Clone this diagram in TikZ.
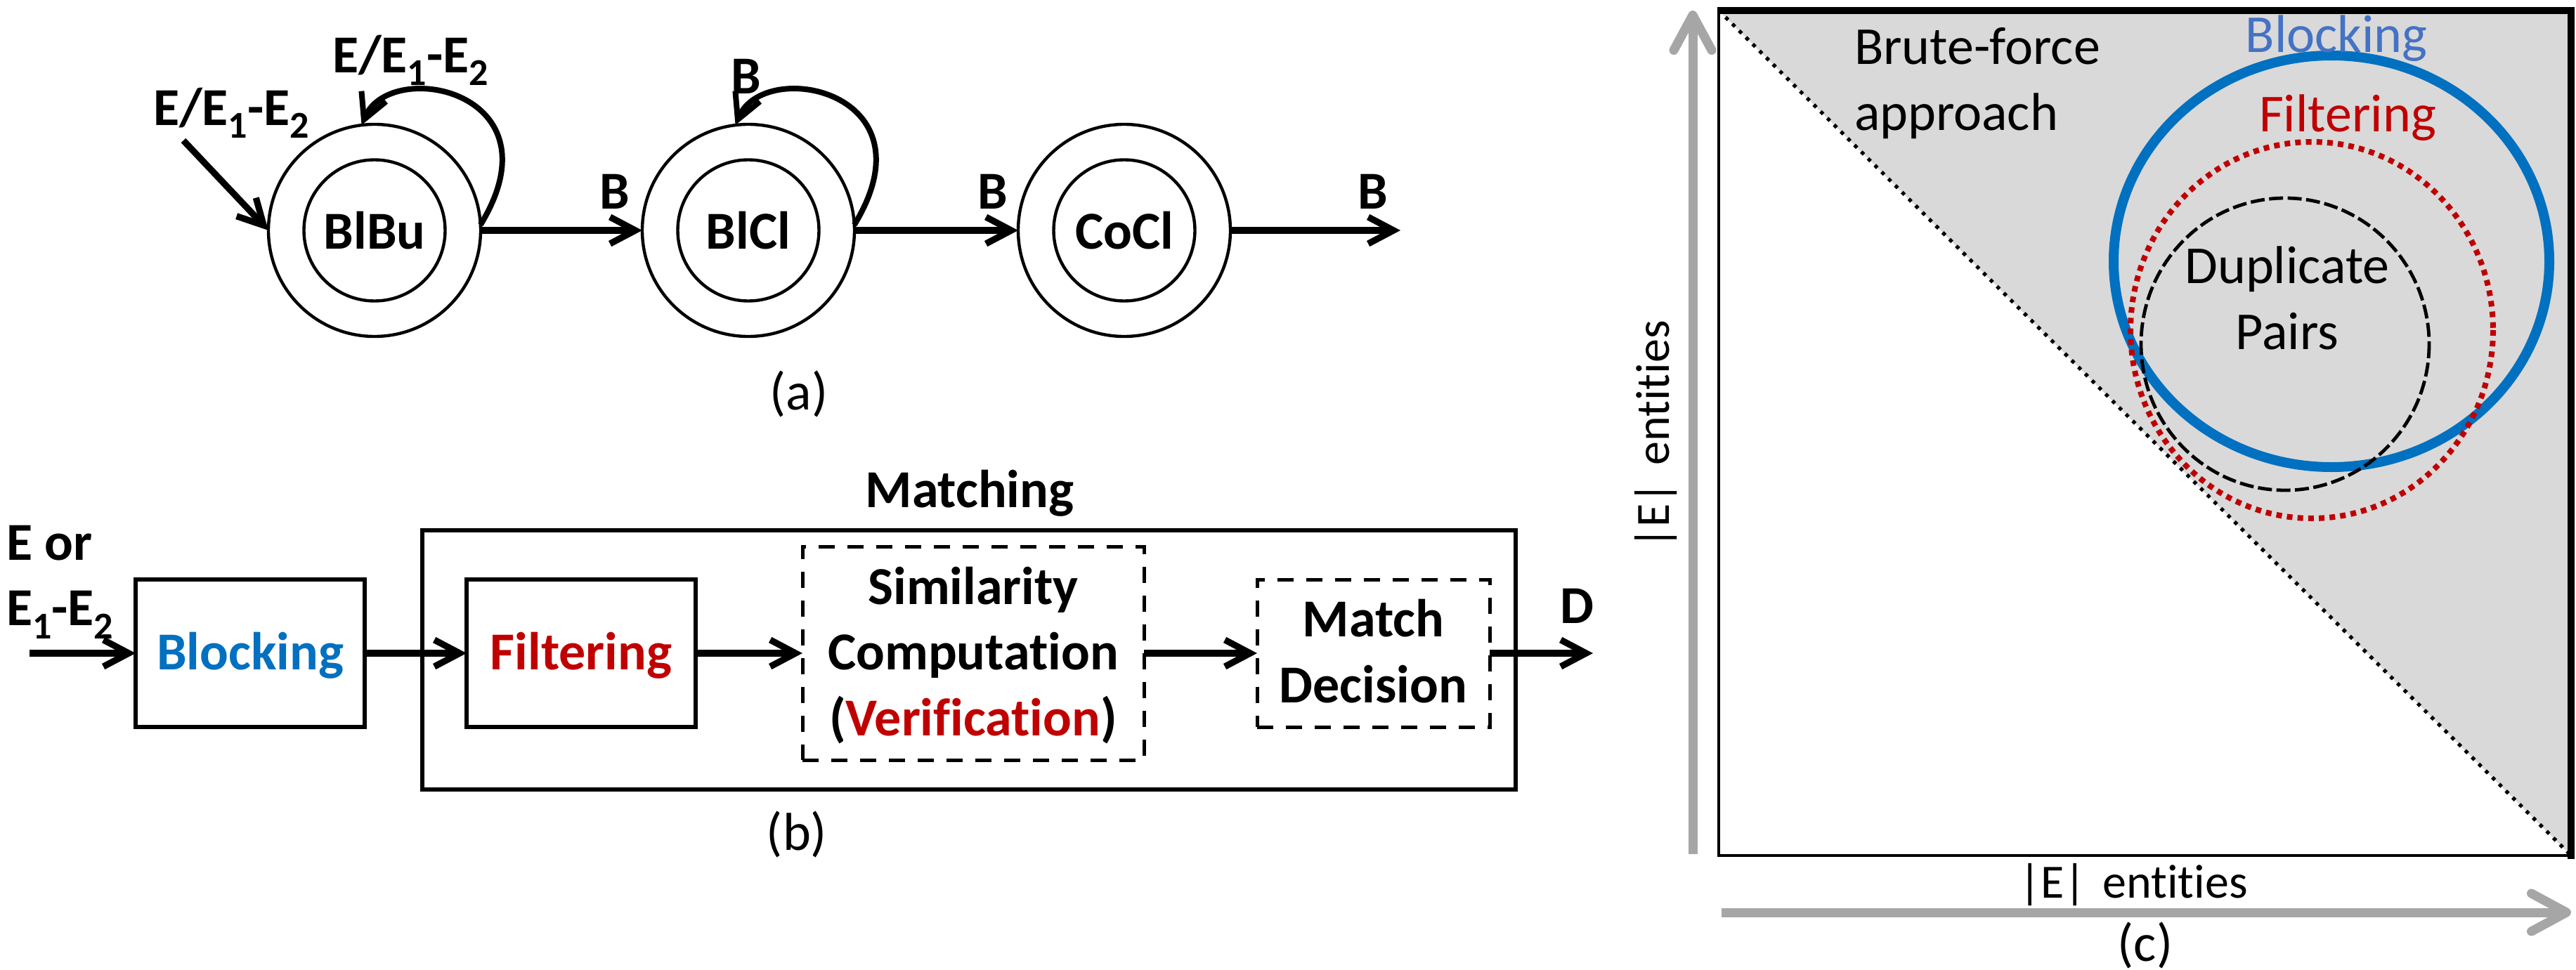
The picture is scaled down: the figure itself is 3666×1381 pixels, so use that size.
\documentclass[tikz,border=0pt]{standalone}
\usepackage{fontspec}
\setmainfont{Carlito}[Ligatures={TeX,NoCommon}]
\usetikzlibrary{arrows.meta}
\definecolor{cblue}{HTML}{0070C0}
\definecolor{lblue}{HTML}{4472C4}
\definecolor{cred}{HTML}{C00000}
\definecolor{cgray}{HTML}{A6A6A6}
\definecolor{cfill}{HTML}{D9D9D9}
\newcommand\sbs[1]{\raisebox{-4.75pt}{\fontsize{13.5}{13.5}\selectfont #1}}
\tikzset{
  every node/.style={inner sep=0pt, outer sep=0pt},
  bfont/.style={font=\fontsize{19}{23.4}\selectfont\bfseries},
  rfont/.style={font=\fontsize{19}{23.4}\selectfont},
  efont/.style={font=\fontsize{17}{20}\selectfont},
  outerst/.style={circle, draw, line width=1.1pt, minimum size=75.5pt},
  innerst/.style={circle, draw, line width=1.1pt, minimum size=50.25pt, bfont},
  arr/.style={line width=2.3pt, -{Straight Barb[length=9pt,width=9.5pt]}},
  looparr/.style={line width=2pt, -{Straight Barb[length=9pt,width=9.5pt]}},
  blockbox/.style={draw, line width=1.5pt, minimum width=81.5pt, minimum height=52.5pt,
     bfont, text height=11.85pt, text depth=0pt, align=center},
  dashbox/.style={blockbox, line width=1.25pt, dash pattern=on 5.75pt off 4.5pt},
  gaxis/.style={cgray, line width=3.25pt, -{Straight Barb[round,length=12.5pt,width=13.5pt]}},
}
\begin{document}
\begin{tikzpicture}[x=0.25pt,y=-0.25pt]
\useasboundingbox (0,0) rectangle (3666,1381);

% ---------------- (a) ----------------
\node[outerst] (blbu) at (533,328) {};
\node[innerst] (blbuin) at (533,328) {BlBu};
\node[outerst] (blcl) at (1065,328) {};
\node[innerst] (blclin) at (1065,328) {BlCl};
\node[outerst] (cocl) at (1600,328) {};
\node[innerst] (coclin) at (1600,328) {CoCl};
\coordinate (ain) at (261,200);
\coordinate (aout) at (1993,328);
\draw[arr] (ain) -- (blbu.west);
\draw[arr] (blbu.east) -- (blcl.west);
\draw[arr] (blcl.east) -- (cocl.west);
\draw[arr] (cocl.east) -- (aout);
\draw[looparr] (blbu.3) .. controls +(116,-190) and +(41,-97) .. (blbu.97);
\draw[looparr] (blcl.3) .. controls +(116,-190) and +(41,-97) .. (blcl.97);
\node[bfont, anchor=base] (lin) at (329,178) {E/E\sbs{1}-E\sbs{2}};
\node[bfont, anchor=base] (lloop1) at (584,103) {E/E\sbs{1}-E\sbs{2}};
\node[bfont, anchor=base] (lloop2) at (1062,133) {B};
\node[bfont, anchor=base] (lb1) at (875,297) {B};
\node[bfont, anchor=base] (lb2) at (1413,297) {B};
\node[bfont, anchor=base] (lb3) at (1954,297) {B};
\node[rfont, anchor=base] (capa) at (1137,583) {(a)};

% ---------------- (b) ----------------
\node[draw, line width=1.5pt, minimum width=389pt, minimum height=92.25pt] (matchingbox) at (1379,939.5) {};
\node[bfont, anchor=base] (matchinglbl) at (1380,722) {Matching};
\node[blockbox, text=cblue] (blocking) at (356,930) {Blocking};
\node[blockbox, text=cred] (filtering) at (827,930) {Filtering};
\node[dashbox, minimum width=121.5pt, minimum height=76pt, text height=58.65pt] (simil) at (1385,930)
   {Similarity\\Computation\\(\textcolor{cred}{Verification})};
\node[dashbox, minimum width=82.75pt, text height=35.25pt] (decision) at (1954.5,930) {Match\\Decision};
\node[bfont, anchor=base west] (ein1) at (9,797) {E or};
\node[bfont, anchor=base west] (ein2) at (9,890) {E\sbs{1}-E\sbs{2}};
\node[bfont, anchor=base] (dlbl) at (2244,887) {D};
\coordinate (bin) at (42,930);
\coordinate (bout) at (2267,930);
\draw[arr] (bin) -- (blocking.west);
\draw[arr] (blocking.east) -- (filtering.west);
\draw[arr] (filtering.east) -- (simil.west);
\draw[arr] (simil.east) -- (decision.west);
\draw[arr] (decision.east) -- (bout);
\node[rfont, anchor=base] (capb) at (1134,1210) {(b)};

% ---------------- (c) ----------------
\coordinate (ftl) at (2446,15);
\coordinate (ftr) at (3659,15);
\coordinate (fbr) at (3659,1218);
\coordinate (fbl) at (2446,1218);
\fill[cfill] (ftl) -- (ftr) -- (fbr) -- cycle;
\draw[line width=0.9pt] (ftl) rectangle (fbr);
\draw[line width=2.5pt] ([xshift=-0.4pt]ftl) -- (ftr) -- ([yshift=-1.2pt]fbr);
\draw[line width=1.3pt, dash pattern=on 1.3pt off 2.1pt] (ftl) -- (fbr);
\draw[cblue, line width=3.5pt] (3318,372) ellipse [x radius=310, y radius=293];
\draw[cred, line width=2pt, dash pattern=on 2pt off 1.8pt] (3290,470) ellipse [x radius=258, y radius=268];
\draw[black, line width=1.2pt, dash pattern=on 5pt off 1.6pt] (3252,490) ellipse [x radius=205, y radius=208];
\node[rfont, anchor=base west, align=left] (brute) at (2639,185) {Brute-force\\approach};
\node[rfont, anchor=base, text=lblue] (cblock) at (3325,75) {Blocking};
\node[rfont, anchor=base, text=cred] (cfilt) at (3341,187) {Filtering};
\node[rfont, anchor=base, align=center] (dup) at (3255,497) {Duplicate\\Pairs};
\coordinate (ybot) at (2409,1216);
\coordinate (ytop) at (2409,15);
\coordinate (xl) at (2450,1299);
\coordinate (xr) at (3659,1299);
\draw[gaxis] (ybot) -- (ytop);
\draw[gaxis] (xl) -- (xr);
\node[efont, anchor=base] (xlab) at (3036,1278) {|E|\hspace{0.35em}entities};
\node[efont, rotate=90] (ylab) at (2357,619) {|E|\hspace{0.35em}entities};
\node[rfont, anchor=base] (capc) at (3053,1368) {(c)};
\end{tikzpicture}
\end{document}
